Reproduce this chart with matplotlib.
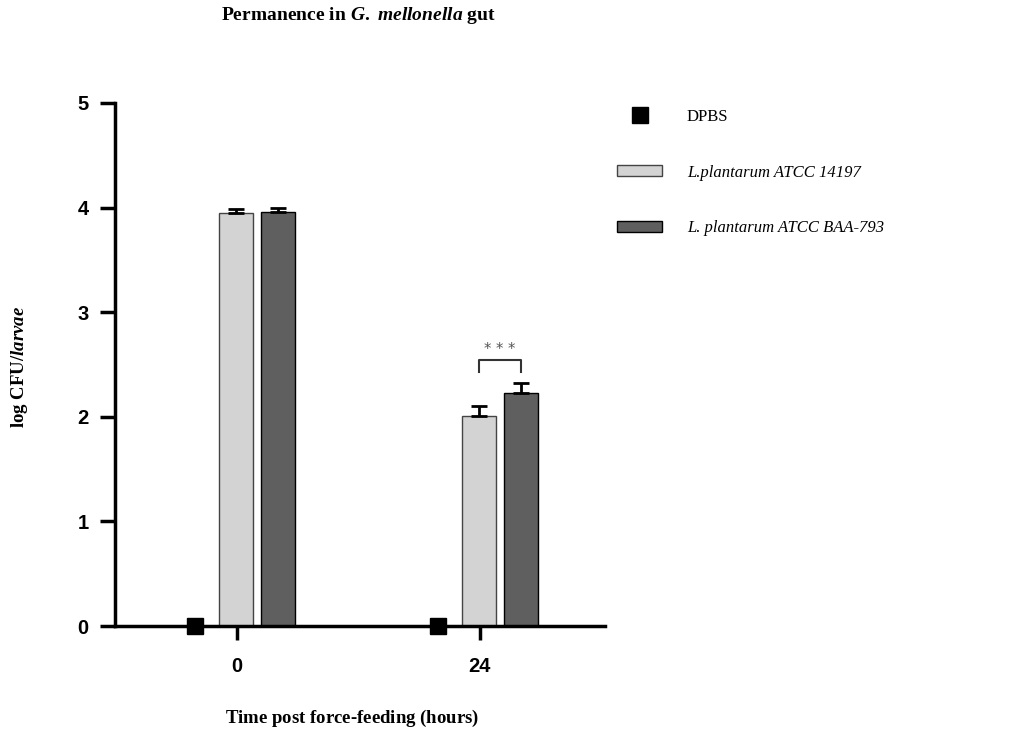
import matplotlib.pyplot as plt
from matplotlib.lines import Line2D
from matplotlib.patches import Patch

# timepoints (hours) and log CFU per larva
timepoints = ['0', '24']
dpbs = [0.0, 0.0]
atcc_14197 = [3.95, 2.01]
atcc_14197_err = [0.04, 0.09]
atcc_baa793 = [3.96, 2.23]
atcc_baa793_err = [0.04, 0.09]

light = '#d3d3d3'
dark = '#5f5f5f'
slot = 0.171
bar_w = 0.14

plt.rcParams['mathtext.fontset'] = 'custom'
plt.rcParams['mathtext.rm'] = 'Liberation Serif:bold'
plt.rcParams['mathtext.it'] = 'Liberation Serif:italic:bold'
plt.rcParams['mathtext.bf'] = 'Liberation Serif:bold'

fig = plt.figure(figsize=(10.17, 7.51), dpi=100)
ax = fig.add_axes([115 / 1017, 125 / 751, 490 / 1017, 523 / 751])

x = list(range(len(timepoints)))
x_dpbs = [i - 0.172 for i in x]
x_a = [i - 0.004 for i in x]
x_b = [i + slot for i in x]

ax.bar(x_a, atcc_14197, width=bar_w, color=light, edgecolor='#444444', linewidth=1, zorder=2)
ax.bar(x_b, atcc_baa793, width=bar_w, color=dark, edgecolor='black', linewidth=1, zorder=2)
ax.errorbar(x_a, atcc_14197, yerr=[[0, 0], atcc_14197_err], fmt='none', ecolor='black',
            elinewidth=2, capsize=6, capthick=2, zorder=3)
ax.errorbar(x_b, atcc_baa793, yerr=[[0, 0], atcc_baa793_err], fmt='none', ecolor='black',
            elinewidth=2, capsize=6, capthick=2, zorder=3)
ax.plot(x_dpbs, dpbs, 's', color='black', markersize=12, clip_on=False, zorder=5)

# significance bracket at 24 h
yb = 2.54
ax.plot([x_a[1], x_a[1], x_b[1], x_b[1]], [yb - 0.11, yb, yb, yb - 0.11],
        color='#333333', linewidth=1.5, zorder=3)
ax.text((x_a[1] + x_b[1]) / 2, yb + 0.03, '* * *', ha='center', va='bottom',
        fontsize=10.5, color='#555555', family='DejaVu Sans')

ax.set_xlim(-0.5, 1.515)
ax.set_ylim(0, 5)
ax.set_xticks(x)
ax.set_xticklabels(timepoints)
ax.set_yticks(range(6))
for s in ['top', 'right']:
    ax.spines[s].set_visible(False)
for s in ['left', 'bottom']:
    ax.spines[s].set_linewidth(2.5)
ax.tick_params(axis='y', length=11, width=2.5, pad=8)
ax.tick_params(axis='x', length=10, width=2.5, pad=12)
for lab in ax.get_xticklabels() + ax.get_yticklabels():
    lab.set_fontfamily('Liberation Sans')
    lab.set_fontweight('bold')
    lab.set_fontsize(14.5)

fig.text(358 / 1017, 1 - 16 / 751, r'$\mathrm{Permanence\ in\ }\mathit{G.\ mellonella}\mathrm{\ gut}$',
         ha='center', va='center', fontsize=14)
fig.text(352 / 1017, 1 - 718 / 751, r'$\mathrm{Time\ post\ force\text{-}feeding\ (hours)}$',
         ha='center', va='center', fontsize=13.5)
fig.text(20 / 1017, 1 - 367 / 751, r'$\mathrm{log\ CFU/}\mathit{larvae}$',
         ha='center', va='center', rotation=90, fontsize=13.5)

handles = [
    Line2D([], [], marker='s', color='black', linestyle='none', markersize=12),
    Patch(facecolor=light, edgecolor='#444444', linewidth=1),
    Patch(facecolor=dark, edgecolor='black', linewidth=1),
]
labels = ['DPBS', 'L.plantarum ATCC 14197', 'L. plantarum ATCC BAA-793']
leg = fig.legend(handles, labels, loc='upper left', bbox_to_anchor=(617 / 1017, 1 - 109 / 751),
                 frameon=False, borderpad=0, borderaxespad=0, handlelength=2.7,
                 handleheight=0.6, handletextpad=1.5, labelspacing=2.38,
                 prop={'family': 'Liberation Serif', 'size': 12})
for i, t in enumerate(leg.get_texts()):
    if i > 0:
        t.set_fontstyle('italic')

fig.savefig('out.png', dpi=100)
